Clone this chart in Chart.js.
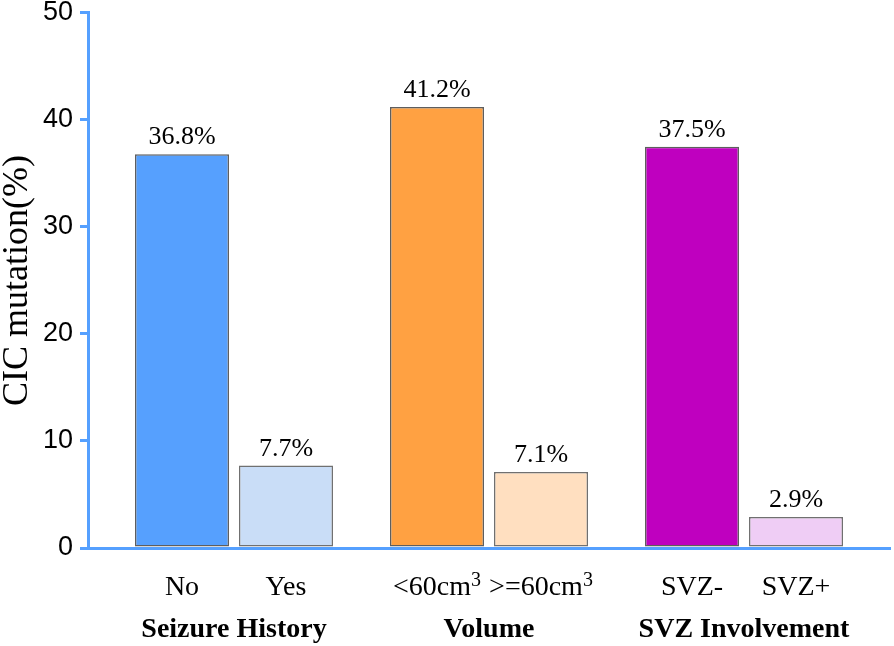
<!DOCTYPE html>
<html>
<head>
<meta charset="utf-8">
<script src="https://cdn.jsdelivr.net/npm/chart.js@4.4.0/dist/chart.umd.min.js"></script>
<style>
  html, body { margin: 0; padding: 0; background: #fff; }
  #contenedor { width: 894px; height: 646px; }
</style>
</head>
<body>
<div id="contenedor"><canvas id="graficoCanvas"></canvas></div>
<script>
// datos
const grupos = ['Seizure History', 'Volume', 'SVZ Involvement'];
const etiquetasPrimera = ['No', '<60cm³', 'SVZ-'];
const etiquetasSegunda = ['Yes', '>=60cm³', 'SVZ+'];
const valoresPrimera = [36.8, 41.2, 37.5];
const valoresSegunda = [7.7, 7.1, 2.9];
const ticksY = [0, 10, 20, 30, 40, 50];

const coloresPrimera = ['#56A0FE', '#FFA142', '#BF00BF'];
const coloresSegunda = ['#C9DDF7', '#FFDFC0', '#EFCDF5'];
const azulEje = '#55A0FF';

// dibuja una etiqueta con el "3" como superindice
function dibujarEtiqueta(ctx, texto, x, y) {
  const base = texto.replace('³', '');
  const tieneSup = texto.indexOf('³') >= 0;
  ctx.font = '28px "Liberation Serif"';
  const anchoBase = ctx.measureText(base).width;
  ctx.font = '20px "Liberation Serif"';
  const anchoSup = tieneSup ? ctx.measureText('3').width : 0;
  const inicio = x - (anchoBase + anchoSup) / 2;
  ctx.textAlign = 'left';
  ctx.font = '28px "Liberation Serif"';
  ctx.fillText(base, inicio, y);
  if (tieneSup) {
    ctx.font = '20px "Liberation Serif"';
    ctx.fillText('3', inicio + anchoBase, y - 9);
  }
}

const etiquetasPlugin = {
  id: 'etiquetas',
  afterDatasetsDraw(chart) {
    const ctx = chart.ctx;
    const fondo = chart.chartArea.bottom;
    ctx.save();
    ctx.fillStyle = '#000';
    ctx.textBaseline = 'alphabetic';
    [0, 1].forEach(d => {
      const meta = chart.getDatasetMeta(d);
      const nombres = d === 0 ? etiquetasPrimera : etiquetasSegunda;
      const valores = d === 0 ? valoresPrimera : valoresSegunda;
      meta.data.forEach((barra, i) => {
        ctx.textAlign = 'center';
        ctx.font = '26px "Liberation Serif"';
        ctx.fillText(valores[i].toFixed(1) + '%', barra.x, barra.y - 10);
        dibujarEtiqueta(ctx, nombres[i], barra.x, fondo + 47);
      });
    });
    ctx.textAlign = 'center';
    ctx.font = 'bold 28px "Liberation Serif"';
    grupos.forEach((g, i) => {
      const a = chart.getDatasetMeta(0).data[i].x;
      const b = chart.getDatasetMeta(1).data[i].x;
      ctx.fillText(g, (a + b) / 2, fondo + 89);
    });
    ctx.restore();
  }
};

const ctx = document.getElementById('graficoCanvas').getContext('2d');
const myChart = new Chart(ctx, {
  type: 'bar',
  data: {
    datasets: [{
      label: 'primera',
      data: valoresPrimera.map((v, i) => ({ x: i, y: v })),
      backgroundColor: coloresPrimera,
      borderColor: '#5E5E5E',
      borderWidth: 1.5,
      borderSkipped: false
    }, {
      label: 'segunda',
      data: valoresSegunda.map((v, i) => ({ x: i, y: v })),
      backgroundColor: coloresSegunda,
      borderColor: '#707070',
      borderWidth: 1.5,
      borderSkipped: false
    }]
  },
  options: {
    responsive: true,
    maintainAspectRatio: false,
    animation: false,
    categoryPercentage: 0.8157,
    barPercentage: 0.9038,
    layout: { padding: { top: 0, right: 4, left: 0, bottom: 0 } },
    plugins: {
      legend: { display: false },
      tooltip: { enabled: false }
    },
    scales: {
      x: {
        type: 'linear',
        offset: false,
        min: -0.5725,
        max: 2.5725,
        afterBuildTicks: s => { s.ticks = grupos.map((g, i) => ({ value: i })); },
        afterFit: s => { s.height = 98; },
        grid: { display: false },
        ticks: { display: false },
        border: { color: azulEje, width: 3 }
      },
      y: {
        min: 0,
        max: 50,
        afterBuildTicks: s => { s.ticks = ticksY.map(v => ({ value: v })); },
        afterFit: s => { s.width = 88; },
        grid: {
          drawOnChartArea: false,
          drawTicks: true,
          tickLength: 8,
          color: azulEje,
          lineWidth: 3
        },
        border: { color: azulEje, width: 3 },
        ticks: {
          color: '#000',
          padding: 7,
          font: { family: '"Liberation Sans"', size: 27, lineHeight: 0.44 }
        },
        title: {
          display: true,
          text: 'CIC mutation(%)',
          color: '#000',
          padding: 0,
          font: { family: '"Liberation Serif"', size: 36, lineHeight: 1 }
        }
      }
    }
  },
  plugins: [etiquetasPlugin]
});
</script>
</body>
</html>
